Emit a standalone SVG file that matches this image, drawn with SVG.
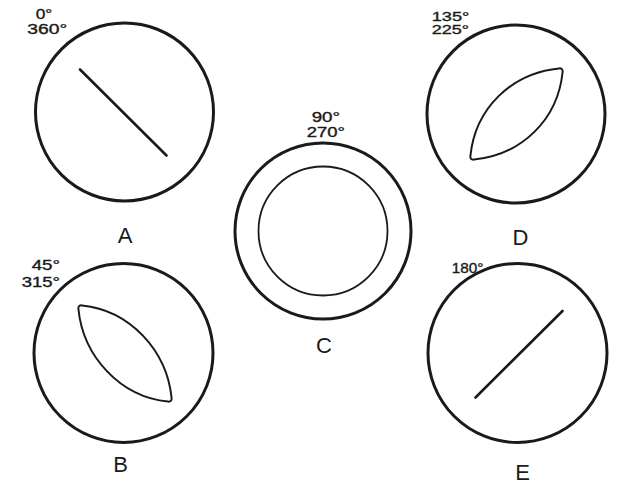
<svg xmlns="http://www.w3.org/2000/svg" width="620" height="482" viewBox="0 0 620 482">
<style>
.scope{fill:none;stroke:#1a1a1a;stroke-width:3}
.inner{fill:none;stroke:#1a1a1a;stroke-width:1.8}
.trace{fill:none;stroke:#1a1a1a;stroke-width:2.6;stroke-linecap:round}
.lens{fill:none;stroke:#1a1a1a;stroke-width:2;stroke-linejoin:round}
.deg{font-family:"Liberation Sans",Arial,sans-serif;font-size:14px;fill:#1a1a1a;stroke:#1a1a1a;stroke-width:0.35}
.lbl{font-family:"Liberation Sans",Arial,sans-serif;font-size:22px;fill:#1a1a1a;text-anchor:middle}
</style>
<rect width="620" height="482" fill="#ffffff"/>
<g id="A">
<circle class="scope" cx="124.5" cy="112" r="89"/>
<line class="trace" x1="80" y1="69.5" x2="166.5" y2="155.5"/>
<text class="deg" x="35.7" y="18.5" textLength="16.6" lengthAdjust="spacingAndGlyphs">0°</text>
<text class="deg" x="27.3" y="33.8" textLength="40" lengthAdjust="spacingAndGlyphs">360°</text>
<text class="lbl" x="125" y="243">A</text>
</g>
<g id="B">
<circle class="scope" cx="123.5" cy="353" r="89.5"/>
<path class="lens" d="M 82,305.4 C 129.7,310.2 166.8,350.3 171.6,398 Q 172,402 168,401.6 C 120.3,396.8 83.2,356.7 78.4,309 Q 78,305 82,305.4 Z"/>
<text class="deg" x="31.7" y="270" textLength="28.3" lengthAdjust="spacingAndGlyphs">45°</text>
<text class="deg" x="21.7" y="286.7" textLength="38.3" lengthAdjust="spacingAndGlyphs">315°</text>
<text class="lbl" x="120.5" y="471.7">B</text>
</g>
<g id="C">
<circle class="scope" cx="323" cy="231" r="88"/>
<circle class="inner" cx="323" cy="231" r="64.5"/>
<text class="deg" x="311.7" y="121.5" textLength="28.3" lengthAdjust="spacingAndGlyphs">90°</text>
<text class="deg" x="306.7" y="136.7" textLength="38.3" lengthAdjust="spacingAndGlyphs">270°</text>
<text class="lbl" x="324" y="353">C</text>
</g>
<g id="D">
<circle class="scope" cx="516" cy="114" r="89"/>
<path class="lens" d="M 470.4,156 C 475.2,108.3 511.3,73.2 559,68.4 Q 563,68 562.6,72 C 557.8,119.7 521.7,154.8 474,159.6 Q 470,160 470.4,156 Z"/>
<text class="deg" x="431.7" y="21.3" textLength="37.6" lengthAdjust="spacingAndGlyphs" style="font-size:13px">135°</text>
<text class="deg" x="431.7" y="33.5" textLength="37.3" lengthAdjust="spacingAndGlyphs" style="font-size:13px">225°</text>
<text class="lbl" x="520.5" y="245">D</text>
</g>
<g id="E">
<circle class="scope" cx="517.5" cy="353" r="89.5"/>
<line class="trace" x1="475.5" y1="397.5" x2="562.5" y2="311"/>
<text class="deg" x="451.7" y="273.3" textLength="31.6" lengthAdjust="spacingAndGlyphs">180°</text>
<text class="lbl" x="522.5" y="479.5">E</text>
</g>
<g id="connectors"></g>
</svg>
